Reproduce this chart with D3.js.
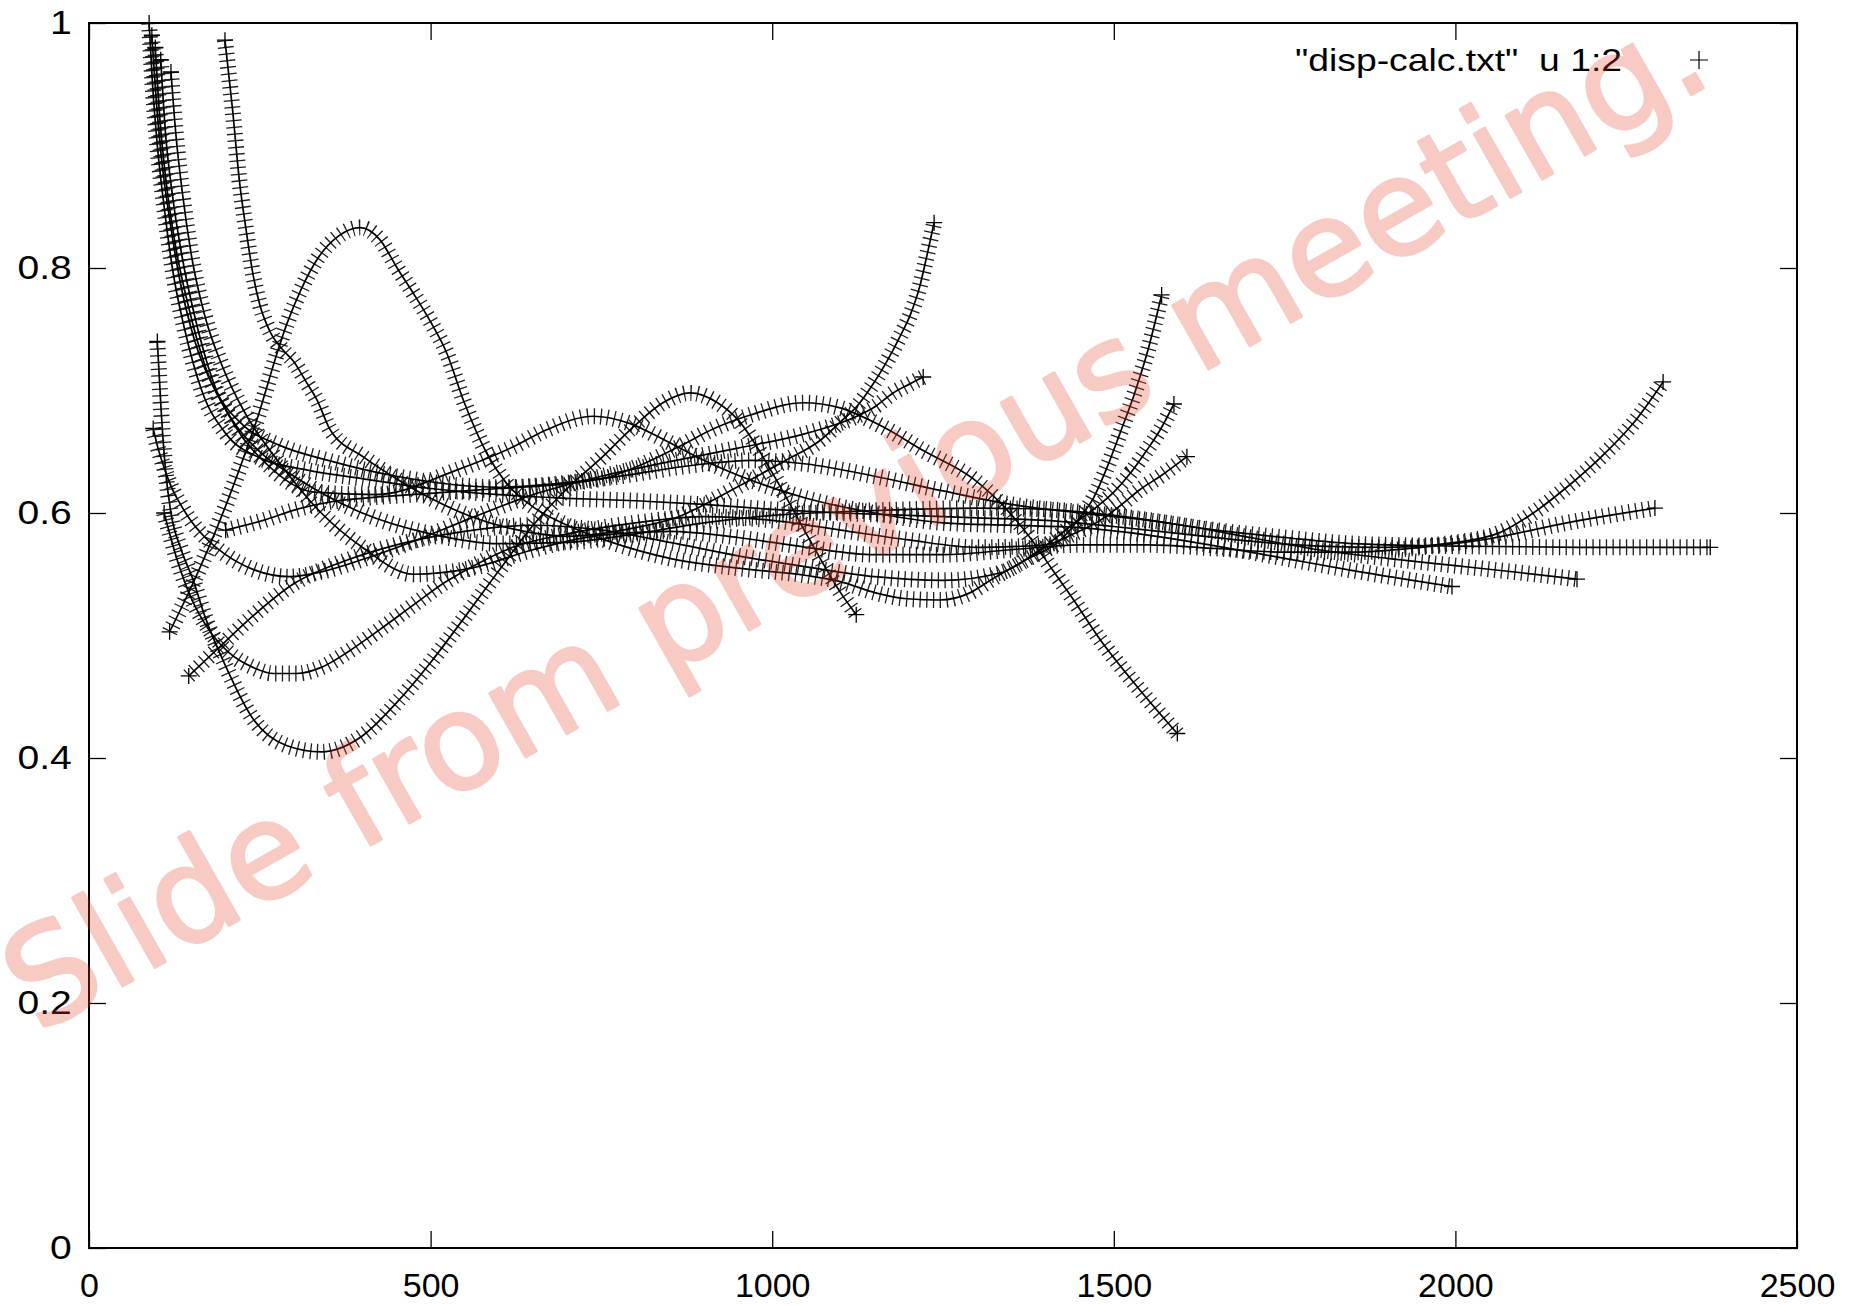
<!DOCTYPE html>
<html>
<head>
<meta charset="utf-8">
<script src="https://cdn.jsdelivr.net/npm/d3@7"></script>
<style>
  body { margin: 0; background: #fff; }
  svg { display: block; }
</style>
</head>
<body>
<div id="chart"></div>
<script>
// axis ticks and texts
var xTicks = [0, 500, 1000, 1500, 2000, 2500];
var yTicks = [0, 0.2, 0.4, 0.6, 0.8, 1];
var legendLabel = '"disp-calc.txt"  u 1:2';
var watermark = "Slide from previous meeting.";

// curves, [x, y]
var curveA = [[88,1.0],[93,0.95],[100,0.90],[110,0.85],[122,0.80],[140,0.75],[165,0.70],[200,0.665],[250,0.645],[320,0.635],[400,0.628],[500,0.62],[600,0.615],[700,0.612],[800,0.61],[900,0.607],[1000,0.603],[1100,0.60],[1200,0.598],[1300,0.596],[1400,0.594],[1500,0.589],[1600,0.583],[1700,0.577],[1800,0.573],[1900,0.572],[2000,0.576],[2065,0.584],[2114,0.600],[2163,0.621],[2212,0.645],[2260,0.673],[2304,0.707]];
var curveB = [[92,0.99],[98,0.94],[106,0.89],[118,0.84],[133,0.79],[155,0.74],[185,0.70],[225,0.672],[280,0.655],[350,0.643],[450,0.63],[600,0.621],[750,0.628],[900,0.64],[968,0.643],[1050,0.64],[1150,0.63],[1250,0.618],[1350,0.607],[1450,0.60],[1550,0.594],[1650,0.586],[1750,0.58],[1850,0.575],[2000,0.573],[2200,0.572],[2373,0.572]];
var curveC = [[97,0.98],[104,0.92],[113,0.87],[126,0.82],[145,0.77],[170,0.72],[205,0.68],[250,0.65],[300,0.63],[400,0.60],[500,0.583],[600,0.575],[700,0.576],[800,0.583],[900,0.592],[1000,0.598],[1100,0.601],[1200,0.603],[1300,0.604],[1400,0.603],[1500,0.598],[1600,0.59],[1700,0.58],[1800,0.57],[1900,0.563],[2000,0.557],[2100,0.551],[2178,0.546]];
var curveD = [[105,0.97],[112,0.91],[122,0.86],[136,0.81],[155,0.76],[180,0.71],[215,0.67],[260,0.64],[330,0.617],[420,0.615],[538,0.635],[621,0.654],[670,0.668],[738,0.679],[792,0.673],[841,0.66],[889,0.646],[968,0.627],[1050,0.612],[1150,0.60],[1250,0.592],[1350,0.59],[1450,0.588],[1550,0.582],[1650,0.573],[1750,0.563],[1850,0.553],[1995,0.54]];
var curveE = [[120,0.96],[127,0.91],[137,0.86],[150,0.81],[170,0.76],[195,0.72],[230,0.68],[280,0.64],[340,0.60],[400,0.572],[475,0.55],[560,0.555],[650,0.57],[750,0.582],[850,0.585],[950,0.58],[1050,0.572],[1150,0.566],[1250,0.566],[1350,0.57],[1450,0.574],[1550,0.574],[1650,0.571],[1750,0.568],[1850,0.568],[1950,0.572],[2050,0.579],[2163,0.592],[2292,0.604]];
var curveF = [[199,0.986],[210,0.93],[220,0.872],[230,0.831],[240,0.795],[250,0.77],[265,0.748],[284,0.733],[299,0.724],[319,0.706],[334,0.692],[353,0.668],[401,0.646],[450,0.628],[500,0.612],[560,0.597],[620,0.587],[700,0.581],[800,0.588],[863,0.597],[915,0.611],[968,0.627],[1020,0.643],[1072,0.66],[1103,0.676],[1124,0.687],[1145,0.703],[1166,0.722],[1187,0.744],[1203,0.763],[1216,0.785],[1226,0.809],[1237,0.837]];
var curveG = [[118,0.503],[150,0.54],[180,0.578],[205,0.613],[228,0.648],[248,0.68],[262,0.706],[275,0.73],[290,0.755],[310,0.782],[335,0.808],[365,0.826],[397,0.833],[426,0.823],[451,0.80],[474,0.78],[499,0.757],[524,0.73],[548,0.692],[582,0.649],[610,0.625],[650,0.605],[700,0.59],[760,0.577],[850,0.563],[950,0.555],[1050,0.549],[1100,0.544],[1150,0.535],[1197,0.53],[1246,0.529],[1290,0.535],[1319,0.545],[1372,0.562],[1420,0.577],[1450,0.596],[1470,0.612],[1490,0.637],[1509,0.665],[1530,0.697],[1550,0.733],[1570,0.778]];
var curveH = [[100,0.74],[106,0.68],[112,0.635],[120,0.60],[135,0.57],[152,0.546],[170,0.515],[200,0.475],[240,0.432],[290,0.41],[340,0.405],[400,0.418],[450,0.445],[500,0.478],[550,0.515],[600,0.553],[650,0.59],[700,0.62],[750,0.645],[800,0.672],[840,0.69],[880,0.698],[920,0.69],[950,0.676],[1000,0.633],[1050,0.583],[1100,0.535],[1123,0.517]];
var curveI = [[110,0.60],[130,0.56],[150,0.53],[175,0.505],[205,0.486],[240,0.474],[270,0.469],[304,0.469],[340,0.474],[380,0.487],[426,0.505],[475,0.525],[520,0.543],[560,0.556],[620,0.572],[700,0.583],[800,0.592],[900,0.597],[1000,0.594],[1100,0.586],[1200,0.578],[1300,0.572],[1400,0.574],[1441,0.583],[1480,0.594],[1514,0.608],[1538,0.619],[1568,0.63],[1607,0.646]];
var curveJ = [[146,0.467],[190,0.49],[240,0.516],[299,0.542],[380,0.562],[450,0.574],[550,0.585],[650,0.59],[750,0.586],[850,0.576],[950,0.565],[1050,0.556],[1150,0.548],[1250,0.545],[1333,0.551],[1392,0.57],[1441,0.591],[1475,0.605],[1500,0.617],[1525,0.633],[1548,0.651],[1568,0.668],[1588,0.689]];
var curveK = [[200,0.586],[255,0.594],[304,0.603],[353,0.609],[400,0.612],[500,0.616],[600,0.62],[700,0.624],[758,0.629],[811,0.64],[863,0.654],[915,0.669],[968,0.68],[1046,0.69],[1098,0.686],[1160,0.671],[1221,0.651],[1294,0.628],[1343,0.603],[1380,0.578],[1411,0.553],[1440,0.53],[1477,0.499],[1536,0.457],[1593,0.42]];
var curveL = [[94,0.669],[100,0.655],[110,0.637],[120,0.622],[135,0.606],[150,0.593],[170,0.58],[200,0.566],[240,0.554],[294,0.548],[340,0.552],[400,0.562],[480,0.578],[560,0.596],[650,0.615],[750,0.63],[850,0.642],[950,0.653],[1050,0.665],[1124,0.679],[1151,0.687],[1177,0.698],[1200,0.705],[1221,0.711]];

var curves = [curveA, curveB, curveC, curveD, curveE, curveF, curveG, curveH, curveI, curveJ, curveK, curveL];

var width = 1859, height = 1306;
var plotLeft = 89, plotRight = 1797, plotTop = 23, plotBottom = 1248;
var labelFont = "'Liberation Sans', Arial, Helvetica, sans-serif";

var svg = d3.select("#chart").append("svg")
    .attr("width", width)
    .attr("height", height);

var x = d3.scaleLinear().domain([0, 2500]).range([plotLeft, plotRight]);
var y = d3.scaleLinear().domain([0, 1]).range([plotBottom, plotTop]);

var line = d3.line()
    .x(function (d) { return x(d[0]); })
    .y(function (d) { return y(d[1]); })
    .curve(d3.curveMonotoneX);

//gnuplot style "+" points, packed so tight they look like a ticked line
var marks = svg.append("g");
marks.selectAll("path.bars")
    .data(curves)
    .enter()
    .append("path")
    .attr("class", "bars")
    .attr("d", line)
    .attr("fill", "none")
    .attr("stroke", "#1e1e1e")
    .attr("stroke-width", 16)
    .attr("stroke-dasharray", "1.3 5.4");
marks.selectAll("path.core")
    .data(curves)
    .enter()
    .append("path")
    .attr("class", "core")
    .attr("d", line)
    .attr("fill", "none")
    .attr("stroke", "#000")
    .attr("stroke-width", 1.7);

// whole crosses where each curve starts and stops
var ends = [];
curves.forEach(function (c) { ends.push(c[0]); ends.push(c[c.length - 1]); });
marks.selectAll("path.end")
    .data(ends)
    .enter()
    .append("path")
    .attr("class", "end")
    .attr("transform", function (d) { return "translate(" + x(d[0]) + "," + y(d[1]) + ")"; })
    .attr("d", "M-8,0H8M0,-8V8")
    .attr("stroke", "#000")
    .attr("stroke-width", 1.3);

// ticks, mirrored on all four sides, pointing inwards
var tickLen = 17;
svg.append("g")
    .attr("transform", "translate(0," + plotBottom + ")")
    .call(d3.axisBottom(x).tickValues(xTicks).tickSize(-tickLen).tickPadding(25)
        .tickFormat(d3.format("d")))
    .call(styleAxis);
svg.append("g")
    .attr("transform", "translate(0," + plotTop + ")")
    .call(d3.axisTop(x).tickValues(xTicks).tickSize(-tickLen).tickFormat(""))
    .call(styleAxis);
var yAxis = svg.append("g")
    .attr("transform", "translate(" + plotLeft + ",0)")
    .call(d3.axisLeft(y).tickValues(yTicks).tickSize(-tickLen).tickPadding(15)
        .tickFormat(function (d) { return d3.format("")(d); }))
    .call(styleAxis);
// the y labels are drawn a little wider in the original
yAxis.selectAll(".tick text").attr("transform", "scale(1.15,1)");
svg.append("g")
    .attr("transform", "translate(" + plotRight + ",0)")
    .call(d3.axisRight(y).tickValues(yTicks).tickSize(-tickLen).tickFormat(""))
    .call(styleAxis);

function styleAxis(g) {
    g.select(".domain").remove();
    g.selectAll(".tick line").attr("stroke", "#000").attr("stroke-width", 1.3);
    g.selectAll(".tick text")
        .attr("fill", "#000")
        .style("font-family", labelFont)
        .style("font-size", "34px");
}

svg.append("rect")
    .attr("x", plotLeft)
    .attr("y", plotTop)
    .attr("width", plotRight - plotLeft)
    .attr("height", plotBottom - plotTop)
    .attr("fill", "none")
    .attr("stroke", "#000")
    .attr("stroke-width", 2);

// key
svg.append("text")
    .attr("x", 1295)
    .attr("y", 71)
    .attr("textLength", 327)
    .attr("lengthAdjust", "spacingAndGlyphs")
    .style("white-space", "pre")
    .style("font-family", labelFont)
    .style("font-size", "32px")
    .text(legendLabel);
svg.append("path")
    .attr("transform", "translate(1699,60)")
    .attr("d", "M-9,0H9M0,-9V9")
    .attr("stroke", "#000")
    .attr("stroke-width", 1.2);

// pink stamp across the slide
var stampLayer = svg.append("g").attr("opacity", 0.27);
var stamp = stampLayer.append("text")
    .attr("transform", "translate(38,1034) rotate(-29.6)")
    .style("font-family", "'DejaVu Sans', sans-serif")
    .style("font-size", "100px")
    .attr("fill", "#e8402a")
    .attr("stroke", "#e8402a")
    .attr("stroke-width", 3)
    .attr("stroke-linejoin", "round")
    .text(watermark);
var len100 = stamp.node().getComputedTextLength();
stamp.style("font-size", (100 * 1930 / len100) + "px");
</script>
</body>
</html>
